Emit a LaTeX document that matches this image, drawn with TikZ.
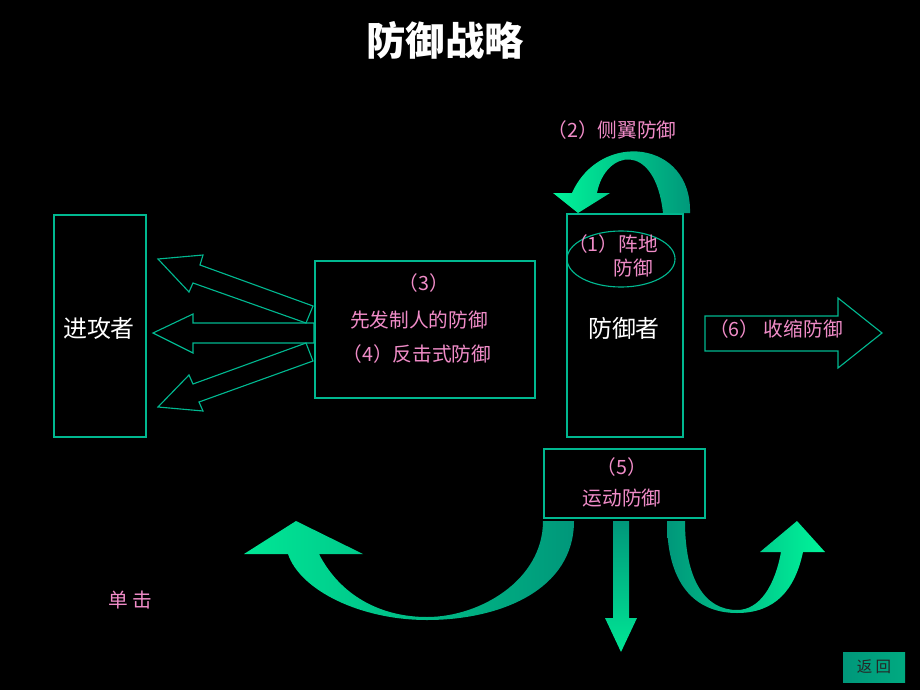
\documentclass[tikz,border=0pt]{standalone}
\usepackage{fontspec}
\usepackage{tikz}
\usepackage{xcolor}
\usetikzlibrary{positioning, shapes.geometric}

\newfontfamily\cjk{Noto Sans CJK SC}

\definecolor{edgeteal}{HTML}{00B890}
\definecolor{labelpink}{HTML}{F08CC8}
\definecolor{brightgreen}{HTML}{00F59A}
\definecolor{darkteal}{HTML}{00977A}

\tikzset{
	box/.style={draw=edgeteal, line width=0.8pt, inner sep=0pt},
	actor/.style={text=white, font=\cjk\fontsize{17}{20}\selectfont},
	pinklabel/.style={text=labelpink, font=\cjk\fontsize{14}{17}\selectfont, inner sep=1pt},
	hollowarrow/.style={draw=edgeteal, line width=0.8pt, line join=miter},
}

\begin{document}
\begin{tikzpicture}[x=0.025cm, y=-0.025cm]
	\fill[black] (0, 0) rectangle (920, 690);  % background

	\node[text=white, font=\cjk\bfseries\fontsize{28}{32}\selectfont] (title) at (445, 40) {防御战略};

	% the three big boxes
	\node[box, minimum width=2.3cm, minimum height=5.55cm] (attacker) at (100, 326) {};
	\node[actor] (attackertext) at (99, 328) {进攻者};
	\node[box, minimum width=5.5cm, minimum height=3.425cm] (preempt) at (425, 329.5) {};
	\node[box, minimum width=2.9cm, minimum height=5.575cm] (defender) at (625, 325.5) {};
	\node[actor] (defendertext) at (624, 328) {防御者};
	\node[box, ellipse, minimum width=2.7cm, minimum height=1.4cm] (position) at (621, 259) {};
	\node[box, minimum width=4.025cm, minimum height=1.725cm] (mobile) at (624.5, 483.5) {};

	% labels
	\node[pinklabel] (pos1) at (613, 244) {（1）阵地};
	\node[pinklabel] (pos2) at (633, 268) {防御};
	\node[pinklabel] (flank) at (612, 130) {（2）侧翼防御};
	\node[pinklabel] (pre1) at (424, 283) {（3）};
	\node[pinklabel] (pre2) at (419, 320) {先发制人的防御};
	\node[pinklabel] (counter) at (417, 354) {（4）反击式防御};
	\node[pinklabel] (mob1) at (622, 467) {（5）};
	\node[pinklabel] (mob2) at (622, 498) {运动防御};
	\node[pinklabel] (shrink) at (776, 329) {（6） 收缩防御};
	\node[pinklabel] (click) at (130, 600) {单 击};

	% hollow arrows towards the attacker
	\draw[hollowarrow] (158, 259) -- (203, 255) -- (200, 265) -- (313, 306) -- (306, 323)
		-- (193, 283) -- (189, 292) -- cycle;  % upper
	\draw[hollowarrow] (153, 333) -- (193, 314) -- (193, 323) -- (314, 323) -- (314, 343)
		-- (193, 343) -- (193, 353) -- cycle;  % middle
	\draw[hollowarrow] (158, 407) -- (203, 411) -- (199, 402) -- (313, 361) -- (306, 343)
		-- (193, 384) -- (189, 375) -- cycle;  % lower

	% hollow arrow (6)
	\draw[hollowarrow] (705, 316) -- (838, 316) -- (838, 298) -- (882, 333) -- (838, 368)
		-- (838, 351) -- (705, 351) -- cycle;

	% curved arrow (2)
	\shade[left color=brightgreen, right color=darkteal]
		(690, 213) .. controls (692, 140) and (600, 130) .. (572, 193) -- (553, 193)
		-- (578, 213) -- (610, 193) -- (597, 193)
		.. controls (605, 150) and (655, 140) .. (663, 213) -- cycle;

	% big curved arrow to the left
	\shade[left color=brightgreen!85!darkteal, right color=darkteal]
		(574, 521) .. controls (574, 590) and (500, 620) .. (427, 620)
		.. controls (360, 620) and (300, 590) .. (288, 554) -- (244, 554) -- (296, 521)
		-- (363, 554) -- (319, 554) .. controls (340, 595) and (380, 617) .. (427, 617)
		.. controls (480, 617) and (543, 580) .. (543, 521) -- cycle;

	% straight arrow down
	\shade[top color=darkteal, bottom color=brightgreen!85!darkteal]
		(613, 521) -- (629, 521) -- (629, 618) -- (637, 618) -- (621, 652) -- (605, 618)
		-- (613, 618) -- cycle;

	% curved arrow to the right
	\shade[left color=darkteal, right color=brightgreen]
		(667, 521) .. controls (667, 590) and (700, 613) .. (737, 613)
		.. controls (775, 613) and (795, 590) .. (803, 552) -- (825, 552) -- (797, 521)
		-- (760, 552) -- (781, 552) .. controls (775, 585) and (760, 610) .. (737, 610)
		.. controls (705, 610) and (685, 580) .. (685, 521) -- cycle;

	% back button
	\shade[left color=darkteal, right color=darkteal!80!brightgreen] (843, 652) rectangle (905, 682);
	\node[text=black!85, font=\cjk\fontsize{11}{13}\selectfont] (back) at (874, 667) {返 回};
\end{tikzpicture}
\end{document}
